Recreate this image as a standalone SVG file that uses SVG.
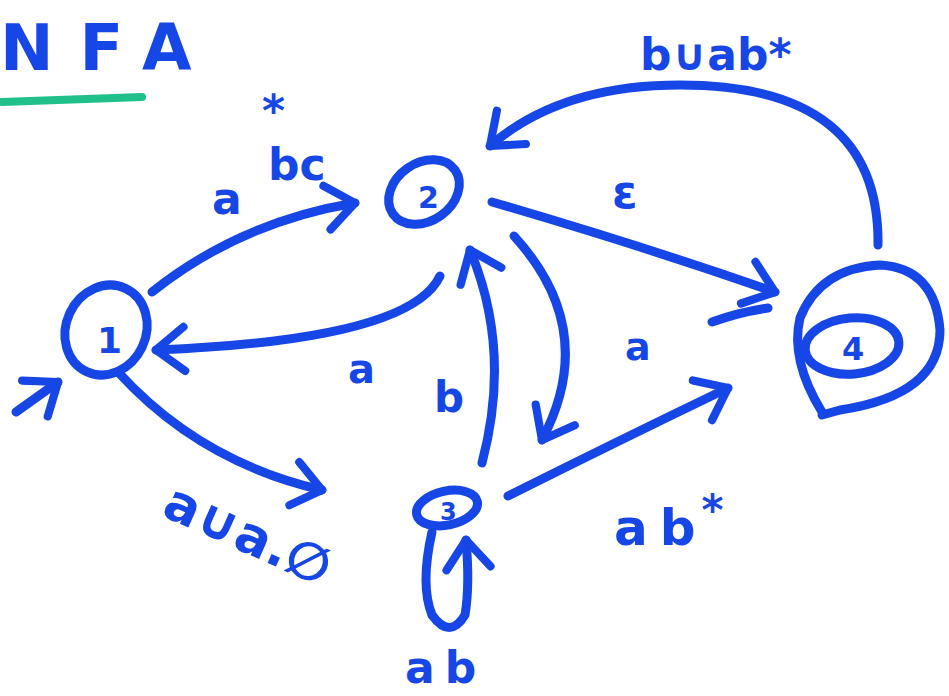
<svg xmlns="http://www.w3.org/2000/svg" width="949" height="696" viewBox="0 0 949 696">
<style>
.s{fill:none;stroke:#1746e6;stroke-width:9;stroke-linecap:round;stroke-linejoin:round}
.e{fill:none;stroke:#1746e6;stroke-width:9;stroke-linecap:round;marker-end:url(#ah)}
.t{font-family:"Comic Sans MS","DejaVu Sans",sans-serif;font-weight:bold;fill:#1746e6}
</style>
<defs>
<marker id="ah" viewBox="-12 -10 14 20" markerWidth="5" markerHeight="7" refX="0" refY="0" orient="auto" markerUnits="strokeWidth">
<polyline points="-9,-7 0,0 -9,7" fill="none" stroke="#1746e6" stroke-width="2.6" stroke-linecap="round" stroke-linejoin="round"/>
</marker>
</defs>
<rect width="949" height="696" fill="#ffffff"/>
<g id="title">
<text class="t" x="0" y="70" font-size="64" letter-spacing="26">NFA</text>
<path d="M2,102 L142,97" stroke="#1fc08a" stroke-width="8" stroke-linecap="round" fill="none"/>
</g>
<g id="connectors">
<path id="start" class="e" d="M16,412 L58,382"/>
<path id="e12" class="e" d="M152,292 Q240,222 355,203"/>
<path id="e21" class="e" d="M440,276 Q410,340 156,350"/>
<path id="e13" class="e" d="M118,372 Q200,462 322,490"/>
<path id="e24" class="e" d="M492,202 Q640,245 775,292"/>
<path id="e23" class="e" d="M514,236 Q600,330 542,440"/>
<path id="e32" class="e" d="M482,463 Q512,350 470,250"/>
<path id="e34" class="e" d="M508,496 Q620,440 728,388"/>
<path id="e42" class="e" d="M878,245 Q880,85 680,85 Q560,85 490,146"/>
<path id="e33" class="e" d="M432,532 Q420,585 432,615 Q450,640 465,615 Q470,585 466,540"/>
<path class="s" d="M712,322 Q740,312 768,308"/>
<text class="t" x="212" y="214" font-size="44">a</text>
<text class="t" x="268" y="180" font-size="44">bc</text>
<text class="t" x="262" y="126" font-size="44">*</text>
<text class="t" x="348" y="383" font-size="40">a</text>
<text class="t" x="160" y="515" font-size="52" transform="rotate(24 160 515)">a∪a.∅</text>
<text class="t" x="612" y="208" font-size="46">ε</text>
<text class="t" x="625" y="360" font-size="38">a</text>
<text class="t" x="434" y="412" font-size="42">b</text>
<text class="t" x="614" y="545" font-size="50"><tspan letter-spacing="12">a</tspan>b<tspan dx="6" dy="-20" font-size="42">*</tspan></text>
<text class="t" x="640" y="70" font-size="44">b∪ab*</text>
<text class="t" x="405" y="683" font-size="44"><tspan letter-spacing="10">a</tspan>b</text>
</g>
<g id="node1">
<ellipse class="s" cx="106" cy="330" rx="40" ry="46" transform="rotate(25 106 330)"/>
<text class="t" x="97" y="353" font-size="36">1</text>
</g>
<g id="node2">
<ellipse class="s" cx="424" cy="192" rx="38" ry="29" transform="rotate(-35 424 192)"/>
<text class="t" x="418" y="208" font-size="30">2</text>
</g>
<g id="node3">
<ellipse class="s" cx="447" cy="508" rx="31" ry="17" transform="rotate(-12 447 508)"/>
<text class="t" x="440" y="520" font-size="24">3</text>
</g>
<g id="node4">
<path class="s" d="M822,412 Q790,360 800,318 Q820,268 880,265 Q935,268 940,330 Q940,395 840,410 L822,415"/>
<ellipse class="s" cx="852" cy="346" rx="47" ry="28" transform="rotate(-5 852 346)"/>
<text class="t" x="842" y="360" font-size="32">4</text>
</g>
</svg>
